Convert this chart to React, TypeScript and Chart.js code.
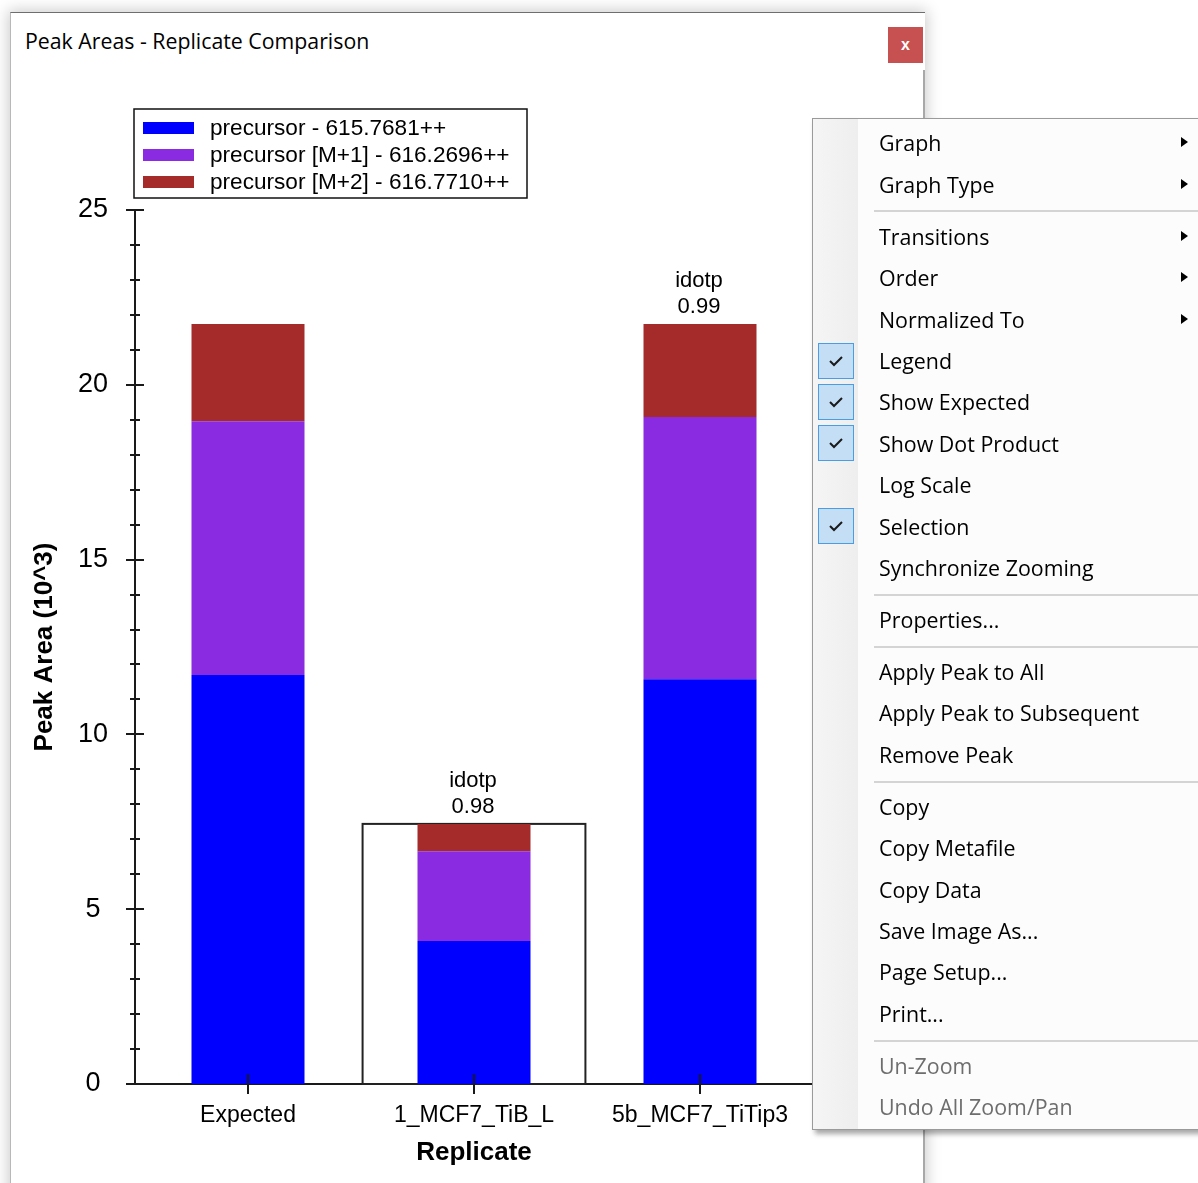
import React, { useEffect, useRef } from "react";
import { Chart, registerables } from "chart.js";

Chart.register(...registerables);

// ---------------- data ----------------
const categories = ["Expected", "1_MCF7_TiB_L", "5b_MCF7_TiTip3"];
const precursorValues = [11.7, 4.09, 11.58];
const m1Values = [7.26, 2.57, 7.5];
const m2Values = [2.78, 0.78, 2.66];
const dotProducts: (number | null)[] = [null, 0.98, 0.99];
const dotProductLabel = "idotp";
const seriesLabels = [
  "precursor - 615.7681++",
  "precursor [M+1] - 616.2696++",
  "precursor [M+2] - 616.7710++",
];
const seriesColors = ["#0000FF", "#8A2BE2", "#A52A2A"];
const yMin = 0;
const yMax = 25;
const yMajorStep = 5;
const yMinorStep = 1;
const selectedIndex = 1;
const windowTitle = "Peak Areas - Replicate Comparison";
const xAxisTitle = "Replicate";
const yAxisTitle = "Peak Area (10^3)";

type MenuEntry = { label?: string; sep?: boolean; arrow?: boolean; checked?: boolean; disabled?: boolean };
const menuEntries: MenuEntry[] = [
  { label: "Graph", arrow: true },
  { label: "Graph Type", arrow: true },
  { sep: true },
  { label: "Transitions", arrow: true },
  { label: "Order", arrow: true },
  { label: "Normalized To", arrow: true },
  { label: "Legend", checked: true },
  { label: "Show Expected", checked: true },
  { label: "Show Dot Product", checked: true },
  { label: "Log Scale" },
  { label: "Selection", checked: true },
  { label: "Synchronize Zooming" },
  { sep: true },
  { label: "Properties..." },
  { sep: true },
  { label: "Apply Peak to All" },
  { label: "Apply Peak to Subsequent" },
  { label: "Remove Peak" },
  { sep: true },
  { label: "Copy" },
  { label: "Copy Metafile" },
  { label: "Copy Data" },
  { label: "Save Image As..." },
  { label: "Page Setup..." },
  { label: "Print..." },
  { sep: true },
  { label: "Un-Zoom", disabled: true },
  { label: "Undo All Zoom/Pan", disabled: true },
];

// ---------------- layout constants ----------------
const CANVAS_W = 915;
const CANVAS_H = 1113;
const AXIS_COLOR = "#1a1a1a";
const CHART_FONT = "'Liberation Sans', Arial, sans-serif";
const UI_FONT = "'Open Sans', 'Noto Sans', sans-serif";

const decorPlugin = {
  id: "decor",
  beforeDatasetsDraw(chart: any) {
    const { ctx, scales } = chart;
    const x = scales.x;
    const y = scales.y;
    // selection box behind the selected replicate
    let total = 0;
    chart.data.datasets.forEach((ds: any) => {
      total += ds.data[selectedIndex];
    });
    const cx = x.getPixelForValue(selectedIndex);
    const step = x.getPixelForValue(1) - x.getPixelForValue(0);
    const half = step * 0.493;
    const top = y.getPixelForValue(total);
    const bottom = y.getPixelForValue(0);
    ctx.save();
    ctx.fillStyle = "#ffffff";
    ctx.fillRect(cx - half, top, half * 2, bottom - top);
    ctx.strokeStyle = "#222";
    ctx.lineWidth = 2;
    ctx.strokeRect(cx - half, top, half * 2, bottom - top);
    ctx.restore();
  },
  afterDatasetsDraw(chart: any) {
    const { ctx, scales, chartArea } = chart;
    const x = scales.x;
    const y = scales.y;
    ctx.save();
    ctx.strokeStyle = AXIS_COLOR;
    ctx.lineWidth = 2;
    // y ticks (major + minor), crossing the axis
    const ax = chartArea.left;
    for (let v = yMin; v <= yMax + 1e-9; v += yMinorStep) {
      const py = Math.round(y.getPixelForValue(v));
      const major = Math.abs(v / yMajorStep - Math.round(v / yMajorStep)) < 1e-9;
      const l = major ? 9 : 5;
      ctx.beginPath();
      ctx.moveTo(ax - l, py);
      ctx.lineTo(ax + l, py);
      ctx.stroke();
    }
    // x category ticks
    const by = chartArea.bottom;
    categories.forEach((_, i) => {
      const px = Math.round(x.getPixelForValue(i));
      ctx.beginPath();
      ctx.moveTo(px, by - 10);
      ctx.lineTo(px, by + 10);
      ctx.stroke();
    });
    // dot product labels
    ctx.fillStyle = "#000";
    ctx.font = `22px ${CHART_FONT}`;
    ctx.textAlign = "center";
    ctx.textBaseline = "middle";
    dotProducts.forEach((d, i) => {
      if (d === null) return;
      let total = 0;
      chart.data.datasets.forEach((ds: any) => {
        total += ds.data[i];
      });
      const px = x.getPixelForValue(i);
      const py = y.getPixelForValue(total);
      ctx.fillText(d.toFixed(2), px - 1, py - 17);
      ctx.fillText(dotProductLabel, px - 1, py - 43);
    });
    // legend box
    const lx = chartArea.left - 1;
    const ly = chartArea.top - 101;
    const lw = 393;
    const lh = 89;
    ctx.fillStyle = "#fff";
    ctx.fillRect(lx, ly, lw, lh);
    ctx.lineWidth = 1.5;
    ctx.strokeStyle = "#111";
    ctx.strokeRect(lx, ly, lw, lh);
    ctx.font = `22.6px ${CHART_FONT}`;
    ctx.textAlign = "left";
    ctx.textBaseline = "middle";
    chart.data.datasets.forEach((ds: any, i: number) => {
      const cy = ly + 19 + i * 27;
      ctx.fillStyle = ds.backgroundColor;
      ctx.fillRect(lx + 9, cy - 6, 51, 12);
      ctx.fillStyle = "#000";
      ctx.fillText(ds.label, lx + 76, cy + 1);
    });
    ctx.restore();
  },
};

function ChartCanvas() {
  const ref = useRef<HTMLCanvasElement | null>(null);
  useEffect(() => {
    if (!ref.current) return;
    const seriesData = [precursorValues, m1Values, m2Values];
    const chart = new Chart(ref.current, {
      type: "bar",
      data: {
        labels: categories,
        datasets: seriesData.map((d, i) => ({
          label: seriesLabels[i],
          data: d,
          backgroundColor: seriesColors[i],
          borderWidth: 0,
          barPercentage: 0.5,
          categoryPercentage: 1,
        })),
      },
      options: {
        responsive: false,
        maintainAspectRatio: false,
        animation: false,
        events: [],
        layout: { padding: { top: 139, left: 0, right: 113, bottom: 0 } },
        plugins: {
          legend: { display: false },
          tooltip: { enabled: false },
        },
        scales: {
          x: {
            stacked: true,
            grid: { display: false, drawTicks: false },
            border: { display: true, color: AXIS_COLOR, width: 2 },
            ticks: {
              padding: 18,
              color: "#000",
              maxRotation: 0,
              autoSkip: false,
              font: { family: CHART_FONT, size: 23 },
            },
            title: {
              display: true,
              text: xAxisTitle,
              color: "#000",
              font: { family: CHART_FONT, size: 26, weight: "bold" },
              padding: { top: 0, bottom: 16 },
            },
            afterFit: (s: any) => {
              s.height = 100;
            },
          },
          y: {
            stacked: true,
            min: yMin,
            max: yMax,
            grid: { display: false, drawTicks: false },
            border: { display: true, color: AXIS_COLOR, width: 2 },
            ticks: {
              stepSize: yMajorStep,
              padding: 27,
              crossAlign: "center",
              color: "#000",
              font: { family: CHART_FONT, size: 27 },
            },
            title: {
              display: true,
              text: yAxisTitle,
              color: "#000",
              font: { family: CHART_FONT, size: 26, weight: "bold" },
              padding: { top: 18, bottom: 0 },
            },
            afterFit: (s: any) => {
              s.width = 124;
            },
          },
        },
      } as any,
      plugins: [decorPlugin],
    });
    return () => chart.destroy();
  }, []);
  return (
    <canvas
      ref={ref}
      width={CANVAS_W}
      height={CANVAS_H}
      style={{ position: "absolute", left: 0, top: 58, width: CANVAS_W, height: CANVAS_H }}
    />
  );
}

function CheckIcon() {
  return (
    <svg width="16" height="12" viewBox="0 0 16 12" style={{ display: "block" }}>
      <path d="M2 6 L6 10 L14 2" fill="none" stroke="#1a1a1a" strokeWidth="2" />
    </svg>
  );
}

function ContextMenu() {
  const MENU_LEFT = 812;
  const MENU_TOP = 118;
  const ITEM_H = 41.41;
  const SEP_H = 10.59;
  let cy = 143 - MENU_TOP; // center of the first item, relative to menu
  const nodes: React.ReactNode[] = [];
  menuEntries.forEach((e, i) => {
    if (e.sep) {
      // cy currently is the center of the next item slot; line sits midway
      const ly = cy - ITEM_H / 2 + SEP_H / 2;
      nodes.push(
        <div
          key={i}
          style={{ position: "absolute", left: 61, right: 0, top: Math.round(ly), height: 2, background: "#d4d4d4" }}
        />
      );
      cy += SEP_H;
      return;
    }
    const top = cy - ITEM_H / 2;
    nodes.push(
      <div key={i} style={{ position: "absolute", left: 0, right: 0, top, height: ITEM_H }}>
        {e.checked && (
          <div
            style={{
              position: "absolute",
              left: 5,
              top: ITEM_H / 2 - 18,
              width: 34,
              height: 34,
              background: "#c3def5",
              border: "1px solid #4a9ce3",
              display: "flex",
              alignItems: "center",
              justifyContent: "center",
            }}
          >
            <CheckIcon />
          </div>
        )}
        <div
          style={{
            position: "absolute",
            left: 66,
            top: 0,
            height: ITEM_H,
            lineHeight: `${ITEM_H}px`,
            fontFamily: UI_FONT,
            fontSize: 21.4,
            color: e.disabled ? "#6d6d6d" : "#000",
            whiteSpace: "nowrap",
          }}
        >
          {e.label}
        </div>
        {e.arrow && (
          <div
            style={{
              position: "absolute",
              left: 368,
              top: ITEM_H / 2 - 5.5,
              width: 0,
              height: 0,
              borderTop: "5.5px solid transparent",
              borderBottom: "5.5px solid transparent",
              borderLeft: "7px solid #000",
            }}
          />
        )}
      </div>
    );
    cy += ITEM_H;
  });
  return (
    <div
      style={{
        position: "absolute",
        left: MENU_LEFT,
        top: MENU_TOP,
        width: 420,
        height: 1012,
        boxSizing: "border-box",
        border: "1px solid #9a9a9a",
        background: "#fcfcfc",
        boxShadow: "3px 4px 5px rgba(0,0,0,0.35)",
      }}
    >
      <div
        style={{
          position: "absolute",
          left: 0,
          top: 0,
          bottom: 0,
          width: 45,
          background: "linear-gradient(to right, #f5f5f5, #eeeeee)",
        }}
      />
      <div style={{ position: "absolute", left: 0, top: -1, right: 0, bottom: 0 }}>{nodes}</div>
    </div>
  );
}

export default function App() {
  return (
    <div
      style={{
        position: "fixed",
        left: 0,
        top: 0,
        width: 1198,
        height: 1183,
        overflow: "hidden",
        background: "#ffffff",
      }}
    >
      <div
        style={{
          position: "absolute",
          left: 10,
          top: 12,
          width: CANVAS_W,
          height: 1200,
          background: "#fff",
          borderTop: "1px solid #6e6e6e",
          borderLeft: "1px solid #b8b8b8",
          boxSizing: "border-box",
          boxShadow: "0 0 14px 2px rgba(0,0,0,0.2)",
        }}
      >
        <div
          style={{
            position: "absolute",
            left: 14,
            top: 13,
            fontFamily: UI_FONT,
            fontSize: 21.3,
            color: "#000",
            lineHeight: "30px",
            whiteSpace: "nowrap",
          }}
        >
          {windowTitle}
        </div>
        <div
          style={{
            position: "absolute",
            left: 877,
            top: 14,
            width: 35,
            height: 36,
            background: "#c75050",
            color: "#fff",
            fontFamily: "'Liberation Sans', Arial, sans-serif",
            fontWeight: "bold",
            fontSize: 16,
            display: "flex",
            alignItems: "center",
            justifyContent: "center",
          }}
        >
          x
        </div>
        <div style={{ position: "absolute", left: CANVAS_W - 3, top: 57, width: 2, bottom: 0, background: "#a8a8a8" }} />
        <ChartCanvas />
      </div>
      <ContextMenu />
    </div>
  );
}
